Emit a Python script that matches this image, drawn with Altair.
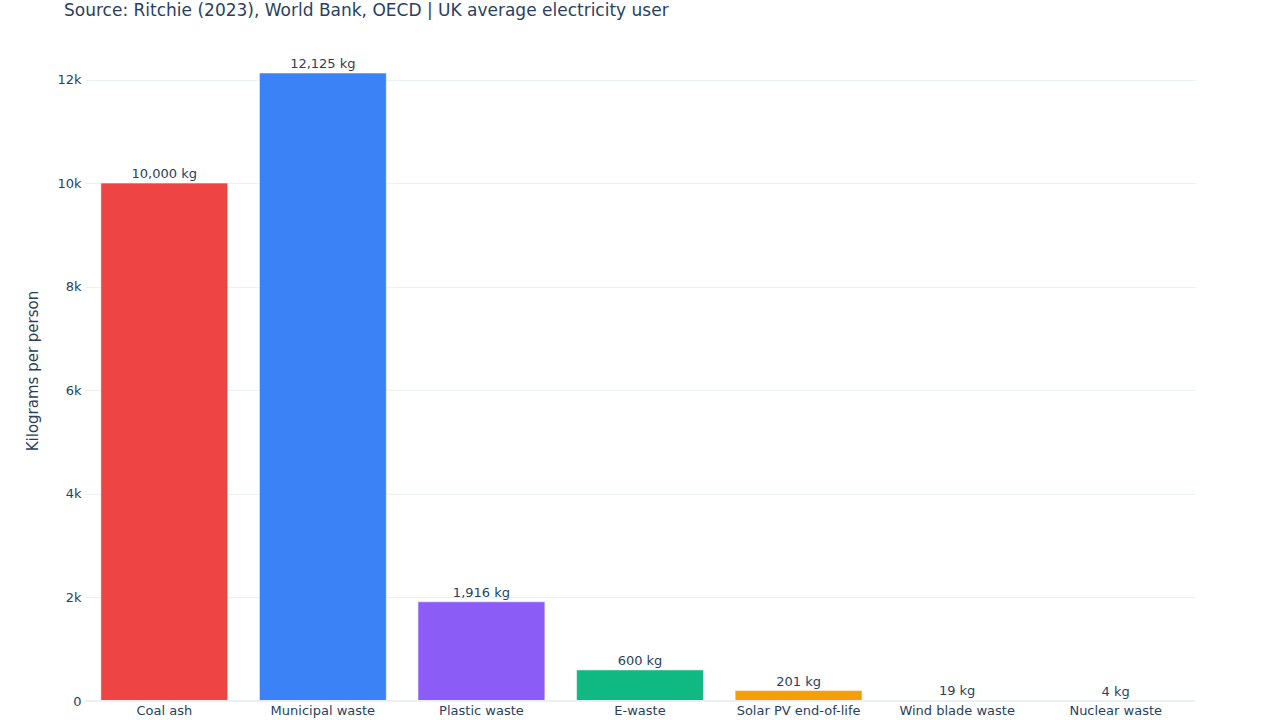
import altair as alt
import pandas as pd

categories = ["Coal ash", "Municipal waste", "Plastic waste", "E-waste",
              "Solar PV end-of-life", "Wind blade waste", "Nuclear waste"]
values = [10000, 12125, 1916, 600, 201, 19, 4]
colors = ["#EF4444", "#3B82F6", "#8B5CF6", "#10B981", "#F59E0B", "#FCE3B8", "#E2E8F0"]

df = pd.DataFrame({"category": categories, "value": values, "color": colors})
df["label"] = [f"{v:,} kg" for v in values]

x = alt.X("category:N", sort=categories, title=None,
          scale=alt.Scale(paddingInner=0.2, paddingOuter=0.1),
          axis=alt.Axis(labelAngle=0, labelFontSize=13, labelColor="#2a3f5f",
                        labelPadding=3, domain=False, ticks=False, grid=False,
                        labelFont="DejaVu Sans"))
y = alt.Y("value:Q", title="Kilograms per person",
          scale=alt.Scale(domain=[0, 12763], nice=False, zero=True),
          axis=alt.Axis(values=[0, 2000, 4000, 6000, 8000, 10000, 12000],
                        labelExpr="datum.value == 0 ? '0' : format(datum.value, '~s')",
                        labelFontSize=13, labelColor="#2a3f5f",
                        titleFontSize=15, titleColor="#2a3f5f", titleFontWeight="normal",
                        titlePadding=16, domain=False, ticks=False,
                        gridColor="#EBF0F8", gridWidth=1, labelPadding=4,
                        labelFont="DejaVu Sans", titleFont="DejaVu Sans"))

bars = alt.Chart(df).mark_bar(stroke="white", strokeOpacity=0.5, strokeWidth=1).encode(
    x=x, y=y, color=alt.Color("color:N", scale=None)
)

zero = alt.Chart(df).mark_rule(color="#EBF0F8", strokeWidth=2).encode(
    y=alt.datum(0)
)

text = alt.Chart(df).mark_text(dy=-9, fontSize=13, color="#2a3f5f", font="DejaVu Sans").encode(
    x=alt.X("category:N", sort=categories),
    y="value:Q",
    text="label:N",
)

chart = alt.layer(bars, zero, text).properties(
    width=1110, height=661,
    title=alt.TitleParams(
        "Source: Ritchie (2023), World Bank, OECD | UK average electricity user",
        anchor="start", frame="group", dx=-21, offset=20, fontSize=17, color="#2a3f5f",
        fontWeight="normal", font="DejaVu Sans"),
    autosize=alt.AutoSizeParams(type="none"),
    padding={"left": 85, "top": 40, "right": 85, "bottom": 19},
).configure(background="white").configure_view(stroke=None)

chart.save("out.html", embed_options={"renderer": "svg", "actions": False})
